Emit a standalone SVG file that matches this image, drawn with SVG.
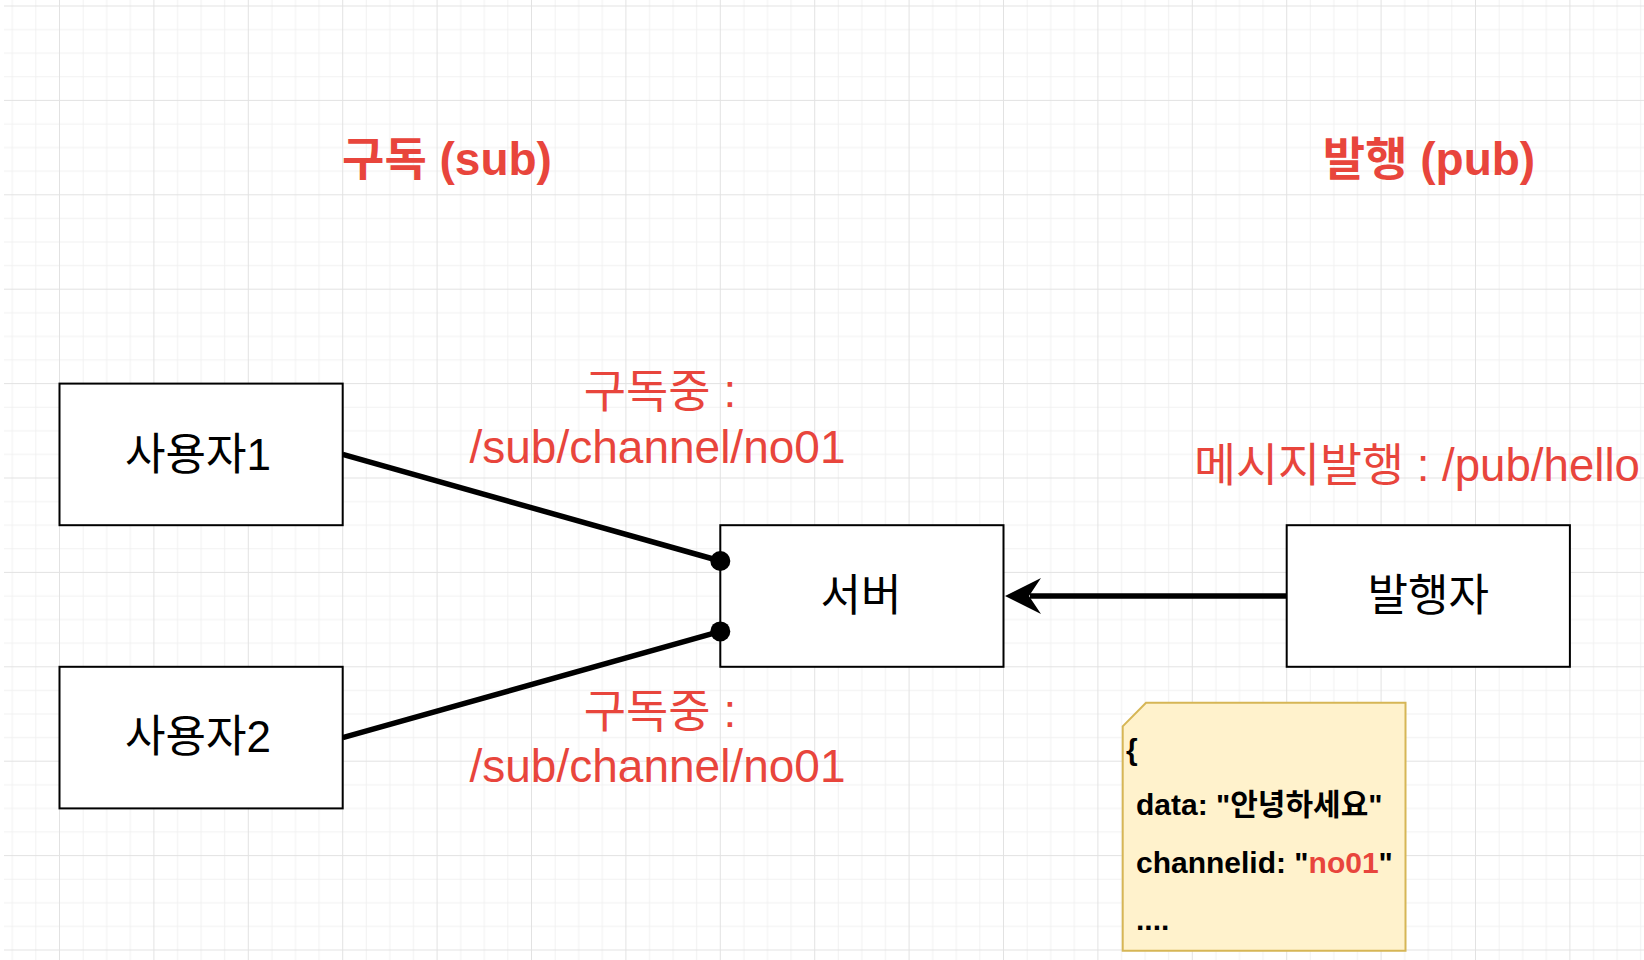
<svg xmlns="http://www.w3.org/2000/svg" width="1644" height="960" viewBox="0 0 1644 960">
  <style>
    .box { fill: #ffffff; stroke: #000000; stroke-width: 2; }
    .lbl { font-family: "Liberation Sans", "Noto Sans CJK KR", sans-serif; font-size: 44px; fill: #000000; text-anchor: middle; }
    .red { font-family: "Liberation Sans", "Noto Sans CJK KR", sans-serif; fill: #e8453c; }
    .head { font-size: 46px; font-weight: 700; text-anchor: middle; }
    .sub { font-size: 46px; text-anchor: middle; }
    .note { fill: #fff2cc; stroke: #d6b656; stroke-width: 2; }
    .nt { font-family: "Liberation Sans", "Noto Sans CJK KR", sans-serif; font-size: 30px; font-weight: 700; fill: #000000; }
    .conn { stroke: #000000; stroke-width: 5.5; fill: none; }
  </style>
  <defs>
    <pattern id="grid" patternUnits="userSpaceOnUse" x="59" y="5.5" width="94.4" height="94.4">
      <path d="M24.1 0V94.4M47.7 0V94.4M71.3 0V94.4M0 24.1H94.4M0 47.7H94.4M0 71.3H94.4" stroke="#f1f1f1" stroke-width="1" fill="none"/>
      <path d="M0.5 0V94.4M0 0.5H94.4" stroke="#e2e2e2" stroke-width="1" fill="none"/>
    </pattern>
  </defs>
  <rect x="0" y="0" width="1644" height="960" fill="#ffffff"/>
  <rect x="4" y="0" width="1640" height="960" fill="url(#grid)"/>

  <g id="title-sub">
    <text class="red head" x="447" y="175">구독 (sub)</text>
  </g>
  <g id="title-pub">
    <text class="red head" x="1429" y="175">발행 (pub)</text>
  </g>

  <g id="user1">
    <rect class="box" x="59.5" y="383.6" width="283.2" height="141.6"/>
    <text class="lbl" x="198" y="470">사용자1</text>
  </g>
  <g id="user2">
    <rect class="box" x="59.5" y="666.8" width="283.2" height="141.6"/>
    <text class="lbl" x="198" y="752">사용자2</text>
  </g>
  <g id="server">
    <rect class="box" x="720.3" y="525.2" width="283.2" height="141.6"/>
    <text class="lbl" x="861" y="611">서버</text>
  </g>
  <g id="publisher">
    <rect class="box" x="1286.7" y="525.2" width="283.2" height="141.6"/>
    <text class="lbl" x="1428.3" y="611">발행자</text>
  </g>

  <g id="connectors">
    <line class="conn" x1="342.7" y1="454.4" x2="720.3" y2="561"/>
    <circle cx="720.3" cy="561" r="10" fill="#000000"/>
    <line class="conn" x1="342.7" y1="737.6" x2="720.3" y2="631.4"/>
    <circle cx="720.3" cy="631.4" r="10" fill="#000000"/>
    <line class="conn" x1="1286.7" y1="596" x2="1030" y2="596" stroke-width="6"/>
    <polygon points="1005,596 1041,578 1029,596 1041,614" fill="#000000"/>
  </g>

  <g id="label-sub1">
    <text class="red sub" x="660" y="407">구독중 :</text>
    <text class="red sub" x="657.5" y="463">/sub/channel/no01</text>
  </g>
  <g id="label-sub2">
    <text class="red sub" x="660" y="727">구독중 :</text>
    <text class="red sub" x="657.5" y="782">/sub/channel/no01</text>
  </g>
  <g id="label-pub">
    <text class="red" x="1194" y="481" font-size="46" textLength="446" lengthAdjust="spacingAndGlyphs">메시지발행 : /pub/hello</text>
  </g>

  <g id="message-note">
    <path class="note" d="M1146 702.7H1405.5V950.7H1122.7V726.3Z"/>
    <text class="nt" x="1126" y="760">{</text>
    <text class="nt" x="1136" y="815">data: "안녕하세요"</text>
    <text class="nt" x="1136" y="873">channelid: "<tspan fill="#e8453c">no01</tspan>"</text>
    <text class="nt" x="1136" y="930">....</text>
  </g>
</svg>
